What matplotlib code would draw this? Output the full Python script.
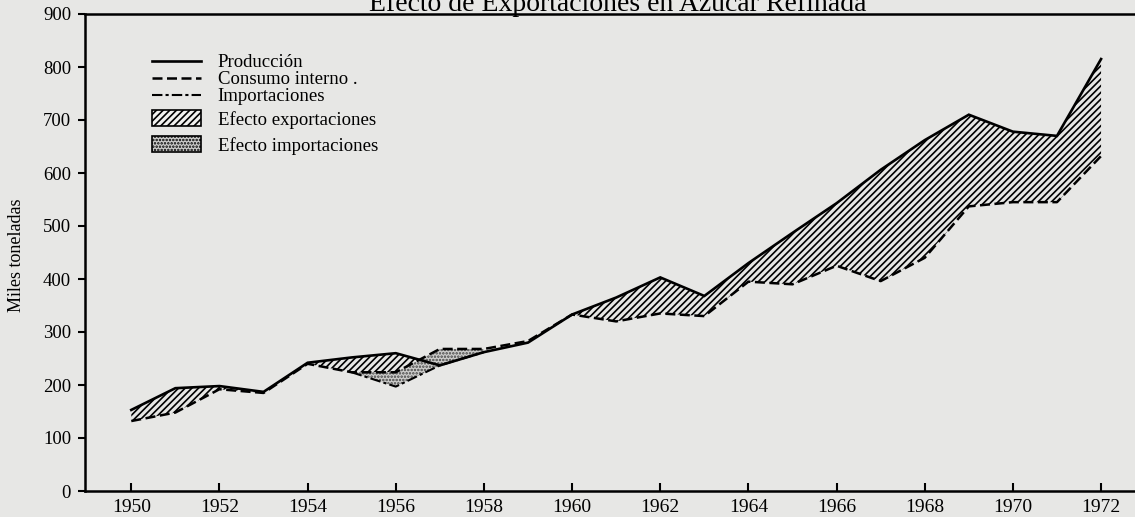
import matplotlib
matplotlib.use("Agg")
import matplotlib.pyplot as plt
import numpy as np
from matplotlib.lines import Line2D
from matplotlib.patches import Patch

# ==========================================
# DATA (miles de toneladas)
# ==========================================
years = [1950, 1951, 1952, 1953, 1954, 1955, 1956, 1957, 1958, 1959, 1960, 1961,
         1962, 1963, 1964, 1965, 1966, 1967, 1968, 1969, 1970, 1971, 1972]

produccion = [153, 194, 198, 187, 242, 252, 260, 237, 262, 280, 333, 365,
              403, 368, 430, 487, 543, 606, 662, 710, 678, 670, 815]

consumo = [132, 148, 192, 185, 240, 224, 224, 268, 268, 283, 333, 320,
           335, 330, 395, 390, 425, 396, 440, 537, 545, 545, 632]

imp_years = [1955, 1956, 1957, 1958]
importaciones = [224, 197, 237, 262]

x_ticks = list(range(1950, 1973, 2))
y_ticks = list(range(0, 901, 100))

title = "Efecto de Exportaciones en Azúcar Refinada"
y_label = "Miles toneladas"


def main():
    plt.rcParams['font.family'] = ['Liberation Serif', 'DejaVu Serif']
    plt.rcParams['hatch.linewidth'] = 1.2
    paper = '#e7e7e5'

    fig = plt.figure(figsize=(11.35, 5.17), dpi=100, facecolor=paper)
    ax = fig.add_axes([85 / 1135, 26 / 517, 1 - 85 / 1135, 477 / 517])
    ax.set_facecolor(paper)

    yrs = np.array(years, dtype=float)
    prod = np.array(produccion, dtype=float)
    cons = np.array(consumo, dtype=float)

    # export effect: production above internal consumption
    ax.fill_between(yrs, cons, prod, where=prod >= cons, interpolate=True,
                    facecolor='none', edgecolor='black', hatch='/////', linewidth=0)

    # import effect: between import line and internal consumption
    cons_imp = np.interp(imp_years, yrs, cons)
    ax.fill_between(imp_years, importaciones, cons_imp,
                    facecolor='#cdcdcb', edgecolor='#444444', hatch='.....', linewidth=0)

    ax.plot(yrs, prod, color='black', lw=1.9, solid_joinstyle='miter')
    ax.plot(yrs, cons, color='black', lw=1.8, linestyle=(0, (4, 1.8)))
    ax.plot(imp_years, importaciones, color='black', lw=1.5,
            linestyle=(0, (5, 1.5, 1.5, 1.5)))

    # ==========================================
    # AXES
    # ==========================================
    ax.set_xlim(1948.95, 1972.77)
    ax.set_ylim(0, 900)
    ax.set_xticks(x_ticks)
    ax.set_yticks(y_ticks)
    ax.tick_params(axis='x', direction='in', length=6, width=1.5, pad=6, labelsize=14)
    ax.tick_params(axis='y', direction='out', length=5, width=1.5, pad=5, labelsize=13.5)
    ax.spines['right'].set_visible(False)
    for side in ['left', 'bottom', 'top']:
        ax.spines[side].set_linewidth(1.8)

    fig.text(17 / 1135, 1 - 255 / 517, y_label, rotation=90, ha='center', va='center',
             fontsize=13)
    fig.text(0.544, 1 - 11 / 517, title, ha='center', va='baseline', fontsize=20)

    # ==========================================
    # LEGEND (two blocks: lines and areas)
    # ==========================================
    line_handles = [
        Line2D([], [], color='black', lw=1.9),
        Line2D([], [], color='black', lw=1.8, linestyle=(0, (4, 1.8))),
        Line2D([], [], color='black', lw=1.5, linestyle=(0, (5, 1.5, 1.5, 1.5))),
    ]
    leg1 = ax.legend(line_handles, ['Producción', 'Consumo interno .', 'Importaciones'],
                     loc='upper left', bbox_to_anchor=(152 / 1135, 1 - 54 / 517),
                     bbox_transform=fig.transFigure, frameon=False, fontsize=13.5,
                     borderpad=0, borderaxespad=0, labelspacing=0.0,
                     handlelength=2.6, handletextpad=0.9)
    ax.add_artist(leg1)

    patch_handles = [
        Patch(facecolor='#f2f2f0', edgecolor='black', hatch='/////', linewidth=1.2),
        Patch(facecolor='#cdcdcb', edgecolor='black', hatch='.....', linewidth=1.2),
    ]
    ax.legend(patch_handles, ['Efecto exportaciones', 'Efecto importaciones'],
              loc='upper left', bbox_to_anchor=(152 / 1135, 1 - 110 / 517),
              bbox_transform=fig.transFigure, frameon=False, fontsize=13.5,
              borderpad=0, borderaxespad=0, labelspacing=0.4,
              handlelength=2.6, handleheight=0.95, handletextpad=0.9)

    fig.savefig('out.png', dpi=100, facecolor=paper)
    plt.close(fig)


if __name__ == "__main__":
    main()
